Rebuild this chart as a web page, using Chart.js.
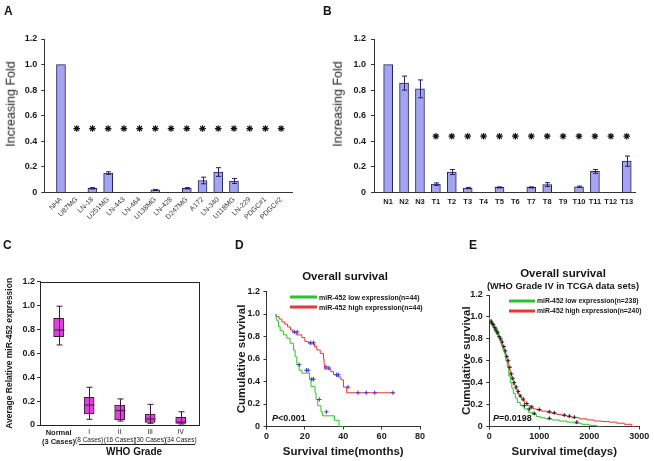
<!DOCTYPE html>
<html>
<head>
<meta charset="utf-8">
<script src="https://cdn.jsdelivr.net/npm/chart.js@4.4.0/dist/chart.umd.min.js"></script>
<style>
body{margin:0;background:#fff;width:654px;height:461px;overflow:hidden;position:relative;font-family:"Liberation Sans",Arial,sans-serif;color:#151515}
canvas{position:absolute}
.t{position:absolute;white-space:nowrap;line-height:1;transform:translate(-50%,-50%)}
.l{position:absolute;white-space:nowrap;line-height:1;transform:translateY(-50%)}
.b{font-weight:bold}
.key{position:absolute;height:3px;transform:translateY(-50%)}
</style>
</head>
<body>
<canvas id="cA" width="300" height="240" style="left:0;top:0"></canvas>
<canvas id="cB" width="327" height="240" style="left:327px;top:0"></canvas>
<canvas id="cC" width="215" height="226" style="left:0;top:235px"></canvas>
<canvas id="cD" width="215" height="226" style="left:215px;top:235px"></canvas>
<canvas id="cE" width="224" height="226" style="left:430px;top:235px"></canvas>

<!-- panel letters -->
<div class="l b" style="left:4px;top:11px;font-size:12px">A</div>
<div class="l b" style="left:323px;top:11px;font-size:12px">B</div>
<div class="l b" style="left:3px;top:245px;font-size:12px">C</div>
<div class="l b" style="left:235px;top:245px;font-size:12px">D</div>
<div class="l b" style="left:469px;top:245px;font-size:12px">E</div>

<!-- y titles for A and B -->
<div class="t" style="left:11px;top:104px;font-size:12.5px;color:#222;transform:translate(-50%,-50%) rotate(-90deg)">Increasing Fold</div>
<div class="t" style="left:338px;top:104px;font-size:12.5px;color:#222;transform:translate(-50%,-50%) rotate(-90deg)">Increasing Fold</div>

<!-- C grade bracket -->
<div style="position:absolute;left:79px;top:444px;width:116px;border-top:1px solid #222"></div>
<div class="t b" style="left:134px;top:452px;font-size:10px">WHO Grade</div>

<!-- D title, legend, p value -->
<div class="t b" style="left:345px;top:277px;font-size:11.5px">Overall survival</div>
<div class="key" style="left:290px;top:297px;width:27px;background:#2cc22c"></div>
<div class="l b" style="left:319px;top:297px;font-size:7px">miR-452 low expression(n=44)</div>
<div class="key" style="left:290px;top:307px;width:27px;background:#ee3434"></div>
<div class="l b" style="left:319px;top:307px;font-size:7px">miR-452 high expression(n=44)</div>
<div class="l b" style="left:272px;top:418px;font-size:9px"><i>P</i>&lt;0.001</div>

<!-- E title, legend, p value -->
<div class="t b" style="left:563px;top:274px;font-size:11.5px">Overall survival</div>
<div class="t b" style="left:563px;top:287px;font-size:9.3px">(WHO Grade IV in TCGA data sets)</div>
<div class="key" style="left:509px;top:301px;width:26px;background:#2cc22c"></div>
<div class="l b" style="left:537px;top:301px;font-size:6.8px">miR-452 low expression(n=238)</div>
<div class="key" style="left:509px;top:311px;width:26px;background:#ee3434"></div>
<div class="l b" style="left:537px;top:311px;font-size:6.8px">miR-452 high expression(n=240)</div>
<div class="l b" style="left:493px;top:418px;font-size:9px"><i>P</i>=0.0198</div>

<script>
Chart.defaults.font.family = '"Liberation Sans", Arial, sans-serif';
Chart.defaults.color = '#1a1a1a';

// A: cell lines
const cellLines = ['NHA', 'U87MG', 'LN-18', 'U251MG', 'LN-443', 'LN-464', 'U138MG', 'LN-428', 'D247MG', 'A172', 'LN-340', 'U118MG', 'LN-229', 'PDGC#1', 'PDGC#2'];
const cellFold = [1.0, 0, 0.033, 0.152, 0, 0, 0.02, 0, 0.033, 0.094, 0.16, 0.09, 0, 0, 0];
const cellErr = [0, 0, 0.005, 0.01, 0, 0, 0.004, 0, 0.005, 0.026, 0.034, 0.02, 0, 0, 0];
const cellStar = 0.5;

// B: tissues
const tissues = ['N1', 'N2', 'N3', 'T1', 'T2', 'T3', 'T4', 'T5', 'T6', 'T7', 'T8', 'T9', 'T10', 'T11', 'T12', 'T13'];
const tissueFold = [1.0, 0.855, 0.81, 0.065, 0.16, 0.035, 0, 0.04, 0, 0.04, 0.062, 0, 0.045, 0.165, 0, 0.245];
const tissueErr = [0, 0.055, 0.07, 0.01, 0.02, 0.005, 0, 0.004, 0, 0.004, 0.015, 0, 0.005, 0.015, 0, 0.04];
const tissueStar = 0.44;

const foldTicks = [0, 0.2, 0.4, 0.6, 0.8, 1.0, 1.2];

// C: box plot by grade
const gradeLabels = [['Normal', '(3 Cases)'], ['I', '(8 Cases)'], ['II', '(16 Cases)'], ['III', '(30 Cases)'], ['IV', '(34 Cases)']];
const boxLow = [0.67, 0.048, 0.033, 0.014, 0.008];
const boxQ1 = [0.74, 0.092, 0.042, 0.022, 0.014];
const boxMed = [0.795, 0.167, 0.12, 0.05, 0.025];
const boxQ3 = [0.893, 0.232, 0.167, 0.092, 0.064];
const boxHigh = [0.995, 0.316, 0.218, 0.173, 0.111];

// D: survival in months
const monthTicks = [0, 20, 40, 60, 80];
const dLowT = [5, 5.4, 6.2, 7.1, 8.8, 10.6, 12.3, 14.1, 14.9, 15.8, 17, 18.4, 22.4, 23.2, 25.3, 25.8, 26.7, 28.4, 29.1, 35.4, 37.8, 40.6, 41.2];
const dLowS = [1.0, 0.96, 0.94, 0.89, 0.85, 0.815, 0.785, 0.74, 0.68, 0.62, 0.55, 0.50, 0.475, 0.42, 0.355, 0.30, 0.24, 0.185, 0.13, 0.095, 0.055, 0, 0];
const dHighT = [5, 6.6, 8, 9.5, 11, 12.5, 13.5, 15.5, 18.4, 20, 21.9, 25, 26.2, 28, 29.7, 30, 30.3, 33.5, 34.9, 37.2, 38.8, 40.1, 41.8, 44, 66.5];
const dHighS = [1.0, 0.977, 0.955, 0.93, 0.91, 0.885, 0.86, 0.84, 0.815, 0.79, 0.756, 0.735, 0.71, 0.68, 0.65, 0.60, 0.55, 0.51, 0.49, 0.46, 0.44, 0.415, 0.35, 0.30, 0.30];
const dLowCensT = [17, 20.8, 21.7, 23.6, 24.5, 27.5, 31.2];
const dLowCensS = [0.55, 0.50, 0.50, 0.42, 0.42, 0.24, 0.13];
const dHighCensT = [14.5, 16, 23, 24.5, 31, 32.5, 36.5, 37.5, 42.5, 47.7, 52, 56.4, 65.9];
const dHighCensS = [0.84, 0.84, 0.745, 0.745, 0.53, 0.52, 0.46, 0.46, 0.35, 0.30, 0.30, 0.30, 0.30];

// E: survival in days (TCGA)
const dayTicks = [0, 1000, 2000, 3000];
const eLowT = [0, 30, 60, 100, 140, 180, 210, 240, 270, 300, 330, 360, 390, 420, 450, 480, 520, 560, 620, 700, 780, 860, 940, 1020, 1120, 1250, 1400, 1550, 1700, 1850, 2000, 2150, 2250];
const eLowS = [1.0, 0.97, 0.94, 0.91, 0.87, 0.84, 0.81, 0.78, 0.74, 0.70, 0.66, 0.60, 0.54, 0.46, 0.40, 0.35, 0.30, 0.26, 0.22, 0.19, 0.16, 0.13, 0.11, 0.09, 0.08, 0.07, 0.06, 0.05, 0.04, 0.03, 0.02, 0.01, 0];
const eHighT = [0, 30, 60, 100, 140, 180, 210, 240, 270, 300, 330, 360, 390, 420, 450, 480, 520, 560, 600, 650, 700, 760, 820, 880, 950, 1050, 1150, 1250, 1350, 1450, 1550, 1650, 1800, 1950, 2100, 2250, 2400, 2550, 2700, 2850, 2950];
const eHighS = [1.0, 0.97, 0.945, 0.915, 0.88, 0.85, 0.82, 0.79, 0.75, 0.72, 0.68, 0.63, 0.58, 0.52, 0.47, 0.43, 0.38, 0.34, 0.30, 0.27, 0.24, 0.21, 0.19, 0.17, 0.16, 0.15, 0.14, 0.13, 0.12, 0.11, 0.10, 0.09, 0.08, 0.07, 0.06, 0.05, 0.045, 0.04, 0.03, 0.02, 0];
const eCensT = [40, 60, 80, 110, 130, 150, 170, 200, 230, 260, 290, 320, 350, 380, 410, 440, 470, 500, 540, 580, 620, 680, 750, 850, 1000, 1200, 1300, 1500, 1600, 1700, 700, 800, 900, 1200, 1750];
const eCensS = [0.96, 0.94, 0.93, 0.905, 0.89, 0.87, 0.855, 0.82, 0.80, 0.77, 0.73, 0.69, 0.64, 0.60, 0.54, 0.48, 0.44, 0.40, 0.36, 0.32, 0.28, 0.25, 0.21, 0.18, 0.155, 0.135, 0.125, 0.105, 0.095, 0.085, 0.19, 0.16, 0.12, 0.075, 0.04];

const barFill = '#a4a4f2';
const barEdge = '#23235a';
const boxFill = '#e040e0';
const boxEdge = '#3a183a';
const lowColor = '#2cc22c';
const highColor = '#ee3434';

const pts = (xs, ys) => xs.map((x, i) => ({x: x, y: ys[i]}));
const fmtFold = v => v === 0 ? '0' : v.toFixed(1);

//error bars drawn from the plugin options
const errorBars = {
    id: 'errorBars',
    afterDatasetsDraw(chart, args, opts) {
        const xs = chart.scales.x, ys = chart.scales.y, ctx = chart.ctx;
        ctx.save();
        ctx.strokeStyle = barEdge;
        ctx.lineWidth = 1;
        opts.err.forEach((e, i) => {
            if (!e) return;
            const v = opts.values[i];
            const x = Math.round(xs.getPixelForValue(i)) + 0.5;
            const y1 = ys.getPixelForValue(v + e), y2 = ys.getPixelForValue(Math.max(v - e, 0));
            ctx.beginPath();
            ctx.moveTo(x, y1); ctx.lineTo(x, y2);
            ctx.moveTo(x - 2.5, y1); ctx.lineTo(x + 2.5, y1);
            ctx.moveTo(x - 2.5, y2); ctx.lineTo(x + 2.5, y2);
            ctx.stroke();
        });
        ctx.restore();
    }
};

//whiskers and median for the box plot
const boxWhiskers = {
    id: 'boxWhiskers',
    afterDatasetsDraw(chart, args, opts) {
        const xs = chart.scales.x, ys = chart.scales.y, ctx = chart.ctx;
        ctx.save();
        ctx.strokeStyle = boxEdge;
        ctx.lineWidth = 1;
        opts.lo.forEach((lo, i) => {
            const x = Math.round(xs.getPixelForValue(i)) + 0.5;
            const yl = ys.getPixelForValue(lo), yh = ys.getPixelForValue(opts.hi[i]), ym = ys.getPixelForValue(opts.med[i]);
            ctx.beginPath();
            ctx.moveTo(x, yl); ctx.lineTo(x, yh);
            ctx.moveTo(x - 3, yl); ctx.lineTo(x + 3, yl);
            ctx.moveTo(x - 3, yh); ctx.lineTo(x + 3, yh);
            ctx.moveTo(x - 5, ym); ctx.lineTo(x + 5, ym);
            ctx.stroke();
        });
        ctx.restore();
    }
};

const frame = {
    id: 'frame',
    afterDraw(chart) {
        const a = chart.chartArea, ctx = chart.ctx;
        ctx.save();
        ctx.strokeStyle = '#222';
        ctx.lineWidth = 1;
        ctx.strokeRect(Math.round(a.left) + 0.5, Math.round(a.top) + 0.5, Math.round(a.right - a.left), Math.round(a.bottom - a.top));
        ctx.restore();
    }
};

const yAxis = (width, size, pad, title) => ({
    min: 0, max: 1.2,
    afterFit: s => { s.width = width; },
    afterBuildTicks: s => { s.ticks = foldTicks.map(v => ({value: v})); },
    ticks: {callback: fmtFold, padding: pad, font: {size: size, weight: 'bold'}, color: '#1a1a1a'},
    grid: {drawOnChartArea: false, tickLength: 3, color: '#333'},
    border: {color: '#333'},
    title: title || {display: false}
});

const base = {responsive: false, animation: false, devicePixelRatio: 1};
const quiet = {legend: {display: false}, tooltip: {enabled: false}};

// A
new Chart(document.getElementById('cA'), {
    type: 'bar',
    data: {
        datasets: [{
            type: 'scatter',
            data: cellLines.slice(1).map((c, i) => ({x: i + 1, y: cellStar})),
            pointStyle: 'star', pointRadius: 3.3, pointBorderColor: '#111', pointBorderWidth: 1.2
        }, {
            data: pts(cellLines.map((c, i) => i), cellFold),
            backgroundColor: barFill, borderColor: barEdge, borderWidth: 1, barThickness: 9, borderSkipped: 'bottom'
        }]
    },
    options: {
        ...base,
        layout: {padding: {top: 39, right: 8, left: 0, bottom: 0}},
        plugins: {...quiet, errorBars: {values: cellFold, err: cellErr}},
        scales: {
            x: {
                type: 'linear', min: -1.06, max: 14.69, offset: false,
                afterFit: s => { s.height = 47.5; },
                afterBuildTicks: s => { s.ticks = cellLines.map((c, i) => ({value: i})); },
                ticks: {callback: v => cellLines[v], minRotation: 45, maxRotation: 45, autoSkip: false, padding: 3, font: {size: 7}, color: '#333'},
                grid: {drawOnChartArea: false, drawTicks: false, offset: false},
                border: {color: '#333'}
            },
            y: yAxis(44.3, 9, 4)
        }
    },
    plugins: [errorBars]
});

// B
new Chart(document.getElementById('cB'), {
    type: 'bar',
    data: {
        datasets: [{
            type: 'scatter',
            data: tissues.slice(3).map((c, i) => ({x: i + 3, y: tissueStar})),
            pointStyle: 'star', pointRadius: 3.3, pointBorderColor: '#111', pointBorderWidth: 1.2
        }, {
            data: pts(tissues.map((c, i) => i), tissueFold),
            backgroundColor: barFill, borderColor: barEdge, borderWidth: 1, barThickness: 9, borderSkipped: 'bottom'
        }]
    },
    options: {
        ...base,
        layout: {padding: {top: 39, right: 19, left: 0, bottom: 0}},
        plugins: {...quiet, errorBars: {values: tissueFold, err: tissueErr}},
        scales: {
            x: {
                type: 'linear', min: -0.89, max: 15.52, offset: false,
                afterFit: s => { s.height = 47.5; },
                afterBuildTicks: s => { s.ticks = tissues.map((c, i) => ({value: i})); },
                ticks: {callback: v => tissues[v], minRotation: 0, maxRotation: 0, autoSkip: false, padding: 5, font: {size: 7.5, weight: 'bold'}},
                grid: {drawOnChartArea: false, drawTicks: false, offset: false},
                border: {color: '#333'}
            },
            y: yAxis(47, 9, 5)
        }
    },
    plugins: [errorBars]
});

// C
new Chart(document.getElementById('cC'), {
    type: 'bar',
    data: {
        datasets: [{
            data: boxQ1.map((q, i) => ({x: i, y: [q, boxQ3[i]]})),
            backgroundColor: boxFill, borderColor: boxEdge, borderWidth: 1, barThickness: 10, borderSkipped: false
        }]
    },
    options: {
        ...base,
        layout: {padding: {top: 46.7, right: 16, left: 0, bottom: 0}},
        plugins: {...quiet, boxWhiskers: {lo: boxLow, med: boxMed, hi: boxHigh}},
        scales: {
            x: {
                type: 'linear', min: -0.61, max: 4.6, offset: false,
                afterFit: s => { s.height = 36; },
                afterBuildTicks: s => { s.ticks = gradeLabels.map((g, i) => ({value: i})); },
                ticks: {
                    callback: v => gradeLabels[v], maxRotation: 0, autoSkip: false, padding: 3,
                    font: c => c.index === 0 ? {size: 7.5, weight: 'bold', lineHeight: 1.25} : {size: 6.5, lineHeight: 1.3}
                },
                grid: {drawOnChartArea: false, drawTicks: false, offset: false},
                border: {color: '#222'}
            },
            y: yAxis(40, 9, 2, {display: true, text: 'Average Relative miR-452 expression', font: {size: 8.5, weight: 'bold'}, padding: {top: 5}, color: '#1a1a1a'})
        }
    },
    plugins: [boxWhiskers, frame]
});

//config for both survival panels
const survival = (el, low, high, censors, xTicks, xMax, censorColor, censorR, xTitle, yWidth, yTitlePad, padTop, padRight) => new Chart(el, {
    type: 'line',
    data: {
        datasets: censors.map(c => ({
            type: 'scatter', data: c, order: 0,
            pointStyle: 'cross', pointRadius: censorR, pointBorderColor: censorColor, pointBorderWidth: 1
        })).concat([
            {data: low, borderColor: lowColor, borderWidth: 1, stepped: 'after', pointRadius: 0, fill: false, order: 1},
            {data: high, borderColor: highColor, borderWidth: 1, stepped: 'after', pointRadius: 0, fill: false, order: 1}
        ])
    },
    options: {
        ...base,
        layout: {padding: {top: padTop, right: padRight, left: 0, bottom: 0}},
        plugins: quiet,
        scales: {
            x: {
                type: 'linear', min: 0, max: xMax,
                afterFit: s => { s.height = 34.5; },
                afterBuildTicks: s => { s.ticks = xTicks.map(v => ({value: v})); },
                ticks: {callback: v => String(v), padding: 2, font: {size: 9, weight: 'bold'}, maxRotation: 0},
                grid: {drawOnChartArea: false, tickLength: 3, color: '#333'},
                border: {color: '#333'},
                title: {display: true, text: xTitle, font: {size: 11.5, weight: 'bold'}, padding: {top: 0, bottom: 2.4}, color: '#1a1a1a'}
            },
            y: yAxis(yWidth, 9, 3.5, {display: true, text: 'Cumulative survival', font: {size: 11.5, weight: 'bold'}, padding: {top: yTitlePad}, color: '#1a1a1a'})
        }
    }
});

// D
survival(document.getElementById('cD'),
    pts(dLowT, dLowS), pts(dHighT, dHighS),
    [pts(dLowCensT, dLowCensS), pts(dHighCensT, dHighCensS)],
    monthTicks, 80, '#3b3bd0', 2.2, 'Survival time(months)', 51.5, 19.8, 56.5, 10);

// E
survival(document.getElementById('cE'),
    pts(eLowT, eLowS), pts(eHighT, eHighS),
    [pts(eCensT, eCensS)],
    dayTicks, 3000, '#222', 2, 'Survival time(days)', 59.3, 29.8, 60, 14.7);
</script>
</body>
</html>
